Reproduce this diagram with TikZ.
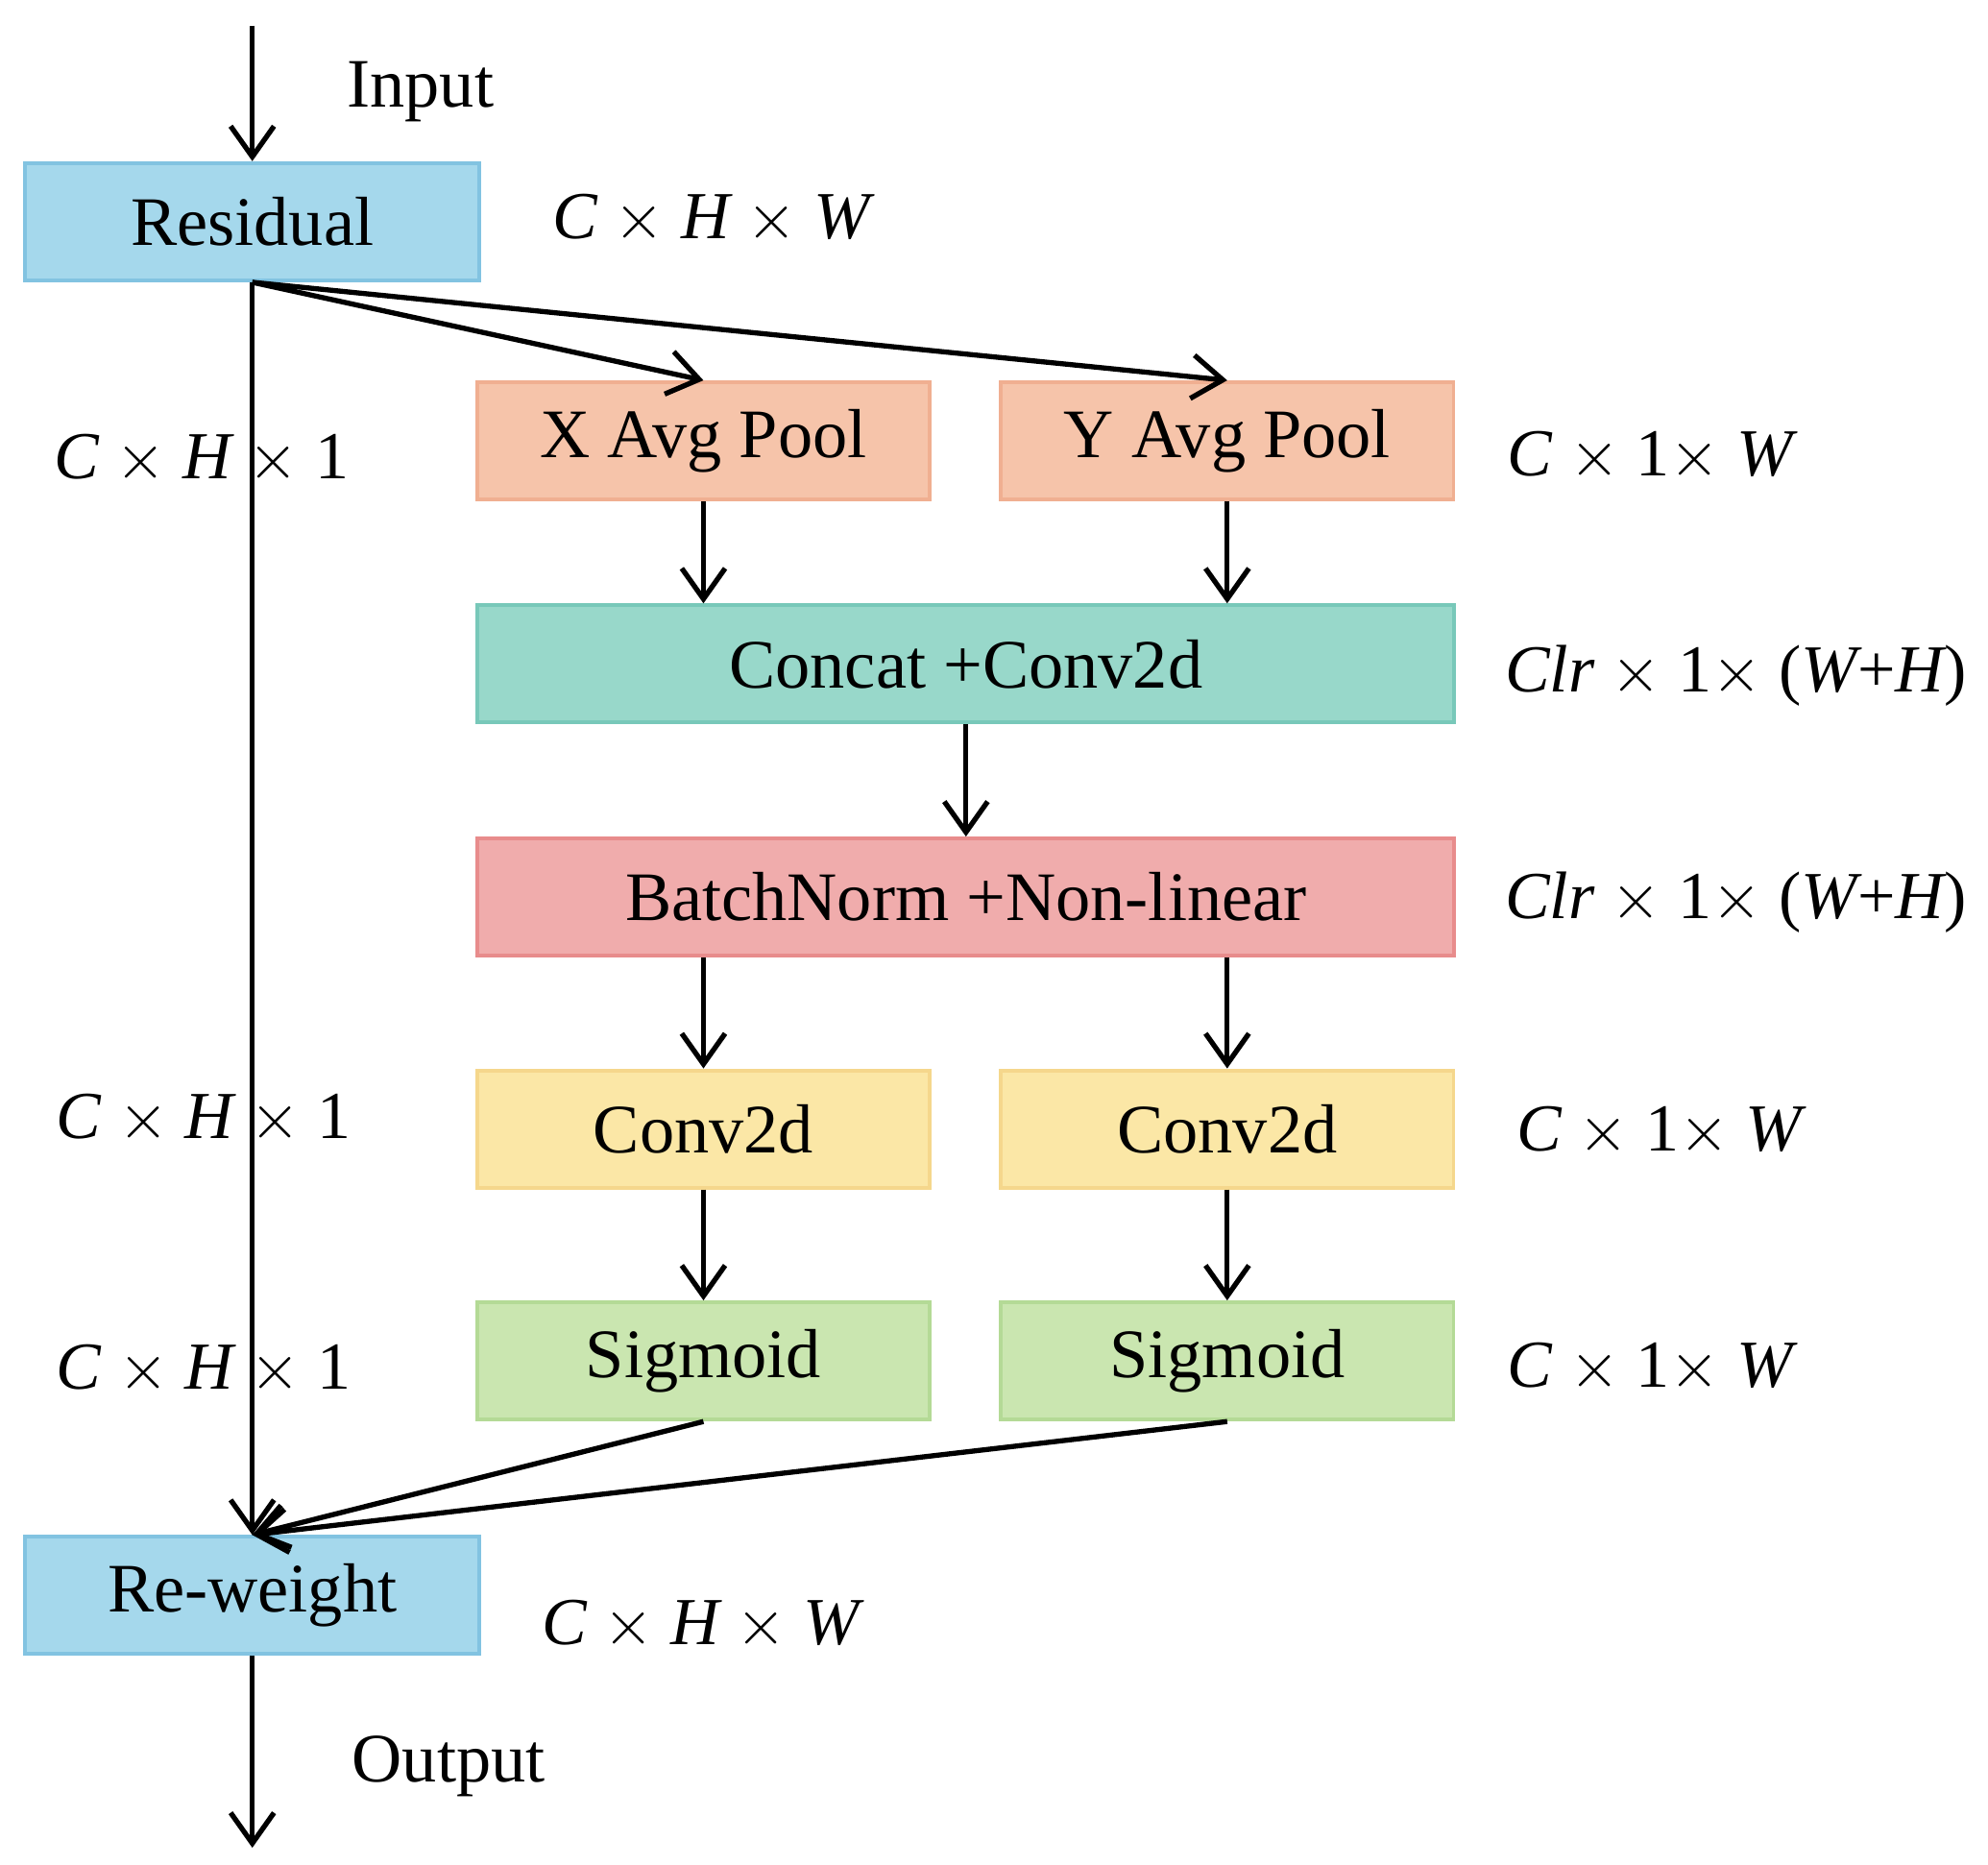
\documentclass[tikz,border=0pt]{standalone}
\usepackage{fontspec}
\setmainfont{Liberation Serif}
\usetikzlibrary{arrows.meta}
\definecolor{resblue}{RGB}{165,216,236}
\definecolor{resdraw}{RGB}{130,195,225}
\definecolor{poolor}{RGB}{246,196,170}
\definecolor{pooldraw}{RGB}{240,175,145}
\definecolor{catteal}{RGB}{152,216,202}
\definecolor{catdraw}{RGB}{120,200,185}
\definecolor{bnred}{RGB}{240,172,172}
\definecolor{bndraw}{RGB}{232,140,140}
\definecolor{convyel}{RGB}{251,231,166}
\definecolor{convdraw}{RGB}{245,215,140}
\definecolor{siggrn}{RGB}{202,230,176}
\definecolor{sigdraw}{RGB}{180,218,150}
\begin{document}
\begin{tikzpicture}[x=0.01cm,y=-0.01cm,
  every node/.style={font=\fontsize{15.5}{19}\selectfont},
  box/.style={minimum height=0.92cm,inner sep=0pt,line width=.3mm},
  small/.style={box,minimum width=3.55cm},
  wide/.style={box,minimum width=7.66cm},
  dim/.style={font=\fontsize{15}{19}\selectfont\itshape},
  arr/.style={-{Straight Barb[length=2.4mm,width=3.4mm]},line width=.4mm}]
\useasboundingbox (0,0) rectangle (1560,1463);
%===============
%	Boxes
%===============
	\node[small,minimum width=3.56cm,fill=resblue,draw=resdraw] (res) at (198,174) {Residual};
	\node[small,fill=poolor,draw=pooldraw] (xpool) at (552,346) {X Avg Pool};
	\node[small,fill=poolor,draw=pooldraw] (ypool) at (963,346) {Y Avg Pool};
	\node[wide,fill=catteal,draw=catdraw] (cat) at (758,521) {Concat +Conv2d};
	\node[wide,fill=bnred,draw=bndraw] (bn) at (758,704) {BatchNorm +Non-linear};
	\node[small,fill=convyel,draw=convdraw] (convx) at (552,886) {Conv2d};
	\node[small,fill=convyel,draw=convdraw] (convy) at (963,886) {Conv2d};
	\node[small,fill=siggrn,draw=sigdraw] (sigx) at (552,1068) {Sigmoid};
	\node[small,fill=siggrn,draw=sigdraw] (sigy) at (963,1068) {Sigmoid};
	\node[small,minimum width=3.56cm,fill=resblue,draw=resdraw] (rew) at (198,1252) {Re-weight};
	\coordinate (in) at (198,20);
	\coordinate (out) at (198,1450);

	%Text
	\node (tin) at (330,72) {Input};
	\node (tout) at (352,1386) {Output};
	\node[dim] (d1) at (558,172) {C $\times$ H $\times$ W};
	\node[dim] (d2) at (158,360) {C $\times$ H $\times$ \upshape 1};
	\node[dim] (d3) at (1295,358) {C $\times$ \upshape 1$\times$ \itshape W};
	\node[dim] (d4) at (1362,530) {Clr $\times$ \upshape 1$\times$ (\itshape W\upshape +\itshape H\upshape )};
	\node[dim] (d5) at (1362,708) {Clr $\times$ \upshape 1$\times$ (\itshape W\upshape +\itshape H\upshape )};
	\node[dim] (d6) at (160,878) {C $\times$ H $\times$ \upshape 1};
	\node[dim] (d7) at (1302,888) {C $\times$ \upshape 1$\times$ \itshape W};
	\node[dim] (d8) at (160,1075) {C $\times$ H $\times$ \upshape 1};
	\node[dim] (d9) at (1295,1073) {C $\times$ \upshape 1$\times$ \itshape W};
	\node[dim] (d10) at (550,1275) {C $\times$ H $\times$ W};

	%Arrows
	\draw[arr] (in) -- (res.north);
	\draw[arr] (res.south) -- (xpool.north);
	\draw[arr] (res.south) -- (ypool.north);
	\draw[arr] (xpool) -- (xpool|-cat.north);
	\draw[arr] (ypool) -- (ypool|-cat.north);
	\draw[arr] (cat) -- (bn.north);
	\draw[arr] (convx|-bn.south) -- (convx.north);
	\draw[arr] (convy|-bn.south) -- (convy.north);
	\draw[arr] (convx) -- (sigx.north);
	\draw[arr] (convy) -- (sigy.north);
	\draw[arr] (res.south) -- (rew.north);
	\draw[arr] (sigx.south) -- (rew.north);
	\draw[arr] (sigy.south) -- (rew.north);
	\draw[arr] (rew.south) -- (out);
\end{tikzpicture}
\end{document}
